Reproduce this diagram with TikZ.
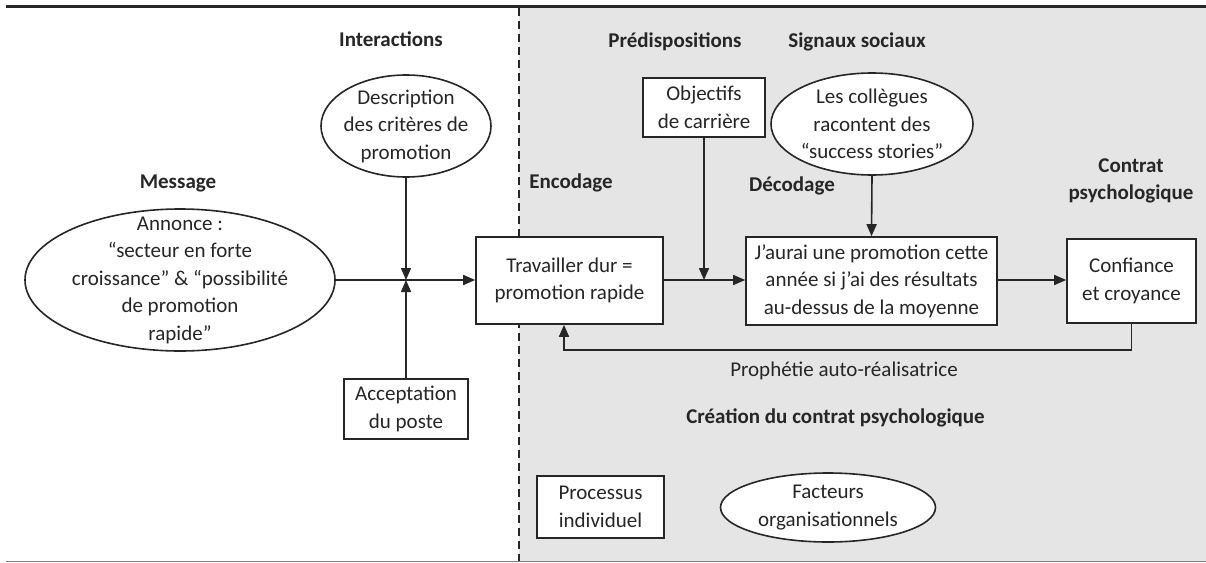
\documentclass[tikz,border=0pt]{standalone}
\usepackage{fontspec}
\setmainfont{Carlito}
\usetikzlibrary{shapes.geometric,arrows.meta}
\begin{document}
\begin{tikzpicture}[x=1pt,y=-1pt,
  every node/.style={font=\fontsize{21}{27.5}\selectfont, text=black!85, align=center},
  bx/.style={draw=black!85, line width=1.6pt, fill=white, inner sep=0pt},
  el/.style={ellipse, draw=black!85, line width=1.6pt, fill=white, inner sep=0pt},
  lab/.style={font=\fontsize{21}{27.5}\selectfont\bfseries},
  arr/.style={line width=1.6pt, draw=black!85, -{Triangle[length=12pt,width=10pt]}},
  ln/.style={line width=1.6pt, draw=black!85}]
\useasboundingbox (0,0) rectangle (1206,562);
% background regions
\fill[gray!20] (519,8) rectangle (1206,561);
\draw[line width=1.5pt, black!85, dash pattern=on 8pt off 5pt] (519,8) -- (519,562);
\draw[line width=3pt, black!85] (6,6) -- (1206,6);
\draw[line width=1pt, gray] (6,561) -- (1206,561);
% labels
\node[lab] (lint) at (391,39) {Interactions};
\node[lab] (lmsg) at (178,183) {Message};
\node[lab] (lenc) at (571,183) {Encodage};
\node[lab] (lpre) at (675,42) {Prédispositions};
\node[lab] (lsig) at (857,42) {Signaux sociaux};
\node[lab] (ldec) at (792,186) {Décodage};
\node[lab] (lcon) at (1131,181) {Contrat\\psychologique};
\node[lab] (lcre) at (835.5,418) {Création du contrat psychologique};
\node (lpro) at (844,371) {Prophétie auto-réalisatrice};
% shapes
\node[el, minimum width=310pt, minimum height=142pt] (msg) at (180,280) {};
\node (msgt) at (msg.center) {Annonce :\\“secteur en forte\\croissance” \& “possibilité\\de promotion\\rapide”};
\node[el, minimum width=170pt, minimum height=102pt] (desc) at (406,126) {};
\node (desct) at (desc.center) {Description\\des critères de\\promotion};
\node[bx, minimum width=124pt, minimum height=60pt] (acc) at (406,409) {Acceptation\\du poste};
\node[bx, minimum width=187pt, minimum height=87pt] (trav) at (569.5,280.5) {Travailler dur =\\promotion rapide};
\node[bx, minimum width=122pt, minimum height=59pt] (obj) at (704,107.5) {Objectifs\\de carrière};
\node[el, minimum width=202pt, minimum height=102pt] (coll) at (872,124) {};
\node (collt) at (coll.center) {Les collègues\\racontent des\\“success stories”};
\node[bx, minimum width=251pt, minimum height=88pt] (jau) at (871.5,281) {J’aurai une promotion cette\\année si j’ai des résultats\\au-dessus de la moyenne};
\node[bx, minimum width=129pt, minimum height=84pt] (conf) at (1131.5,281) {Confiance\\et croyance};
\node[bx, minimum width=127pt, minimum height=62pt] (proc) at (600.5,507) {Processus\\individuel};
\node[el, minimum width=215pt, minimum height=69pt] (fact) at (828,507.5) {};
\node (factt) at (fact.center) {Facteurs\\organisationnels};
% connectors
\coordinate (j1) at (406,280);
\coordinate (j2) at (704,280);
\coordinate (fb1) at (1131.5,350);
\coordinate (fb2) at (564,350);
\draw[arr] (msg.east) -- (msg.east -| trav.west);
\draw[arr] (desc.south) -- (j1);
\draw[arr] (acc.north) -- (j1);
\draw[arr] (trav.east |- j2) -- (j2 -| jau.west);
\draw[arr] (obj.south) -- (j2);
\draw[arr] (coll.south) -- (jau.north);
\draw[arr] (jau.east |- j2) -- (j2 -| conf.west);
\draw[arr] (conf.south) -- (fb1) -- (fb2) -- (fb2 |- trav.south);
\end{tikzpicture}
\end{document}
